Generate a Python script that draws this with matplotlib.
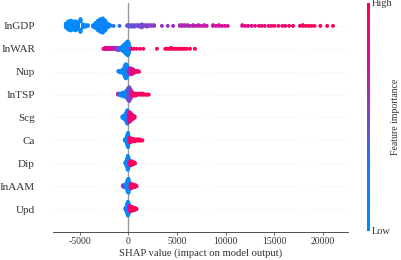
#!/usr/bin/env python3

import numpy as np
import matplotlib
matplotlib.use("Agg")
import matplotlib.pyplot as plt
from matplotlib.colors import LinearSegmentedColormap

### data START ###
# features from top to bottom
features = ["InGDP", "InWAR", "Nup", "InTSP", "Scg", "Ca", "Dip", "InAAM", "Upd"]

# each feature: SHAP positions, number of samples at that position, feature value level (0 low .. 1 high)
InGDP_x = [-6400, -6150, -5900, -5650, -5400, -5150, -4900, -4650, -4400, -4150,
           -3600, -3350, -3100, -2850, -2600, -2350, -2100, -1850, -1500, -900,
           -100, 150, 400, 650, 900, 1150, 1400, 1650, 1900, 2150, 2400, 2650,
           3450, 4050, 4600, 5300, 5550, 5800, 6100, 6350, 6650, 6900, 7200, 7500, 7800, 8050,
           8700, 9000, 9300, 9600, 9900, 10200,
           11700, 12000, 12300, 12650, 13000, 13400, 13700, 14000, 14400, 14700, 15000, 15400,
           15800, 16100, 16500, 16900, 17600, 17900, 18200, 18500, 18800, 19100, 19700, 20400, 21000]
InGDP_n = [6, 12, 14, 12, 13, 10, 8, 5, 3, 2,
           3, 8, 14, 18, 20, 14, 6, 2, 1, 1,
           2, 3, 3, 3, 2, 3, 2, 2, 3, 2, 2, 2,
           1, 1, 1, 2, 2, 2, 2, 1, 2, 1, 2, 1, 2, 1,
           2, 1, 2, 1, 1, 1,
           2, 1, 1, 1, 1, 1, 1, 1, 1, 1, 1, 1,
           1, 1, 1, 1, 1, 2, 1, 1, 1, 1, 1, 1, 1]
InGDP_c = [0.02, 0.02, 0.03, 0.03, 0.04, 0.05, 0.05, 0.06, 0.07, 0.08,
           0.10, 0.10, 0.11, 0.12, 0.12, 0.13, 0.14, 0.15, 0.25, 0.35,
           0.42, 0.44, 0.45, 0.46, 0.47, 0.48, 0.49, 0.50, 0.51, 0.52, 0.53, 0.54,
           0.57, 0.58, 0.60, 0.62, 0.62, 0.63, 0.64, 0.65, 0.66, 0.67, 0.68, 0.69, 0.70, 0.70,
           0.72, 0.73, 0.74, 0.75, 0.76, 0.77,
           0.80, 0.81, 0.82, 0.83, 0.84, 0.85, 0.86, 0.87, 0.88, 0.89, 0.90, 0.90,
           0.91, 0.92, 0.93, 0.93, 0.94, 0.95, 0.96, 0.96, 0.97, 0.98, 0.98, 0.99, 1.0]

InWAR_x = [-2550, -2450, -2350, -2250, -2150, -2050, -1950, -1850, -1750, -1650, -1550, -1450,
           -1350, -1250, -1150, -1050, -950, -850,
           -750, -650, -550, -450, -350, -250, -150, -50, 50, 150,
           340, 580, 860, 1200, 1540, 2940,
           3800, 4000, 4200, 4400, 4600, 4800, 5000, 5200, 5400, 5600, 5800, 6000, 6330, 6840]
InWAR_n = [1, 1, 2, 1, 2, 1, 2, 2, 2, 2, 2, 2, 2, 2, 3, 3, 3, 3,
           2, 4, 6, 8, 10, 12, 14, 16, 12, 4,
           1, 1, 1, 1, 1, 1,
           1, 1, 1, 2, 1, 1, 1, 1, 1, 1, 1, 1, 1, 1]
InWAR_c = [0.85, 0.85, 0.84, 0.83, 0.82, 0.81, 0.80, 0.79, 0.78, 0.76, 0.74, 0.70,
           0.65, 0.60, 0.55, 0.50, 0.45, 0.40,
           0.10, 0.08, 0.06, 0.05, 0.05, 0.04, 0.04, 0.05, 0.08, 0.15,
           0.90, 0.91, 0.92, 0.93, 0.93, 0.94,
           0.95, 0.95, 0.96, 0.96, 0.96, 0.97, 0.97, 0.97, 0.98, 0.98, 0.98, 0.99, 0.99, 1.0]

Nup_x = [-1000, -800, -600, -450, -350, -250, -150, -80, 50, 150, 250, 350, 450, 550, 650, 800, 950, 1100]
Nup_n = [2, 3, 4, 8, 14, 18, 16, 8, 6, 8, 8, 7, 6, 4, 3, 2, 2, 1]
Nup_c = [0.05, 0.05, 0.06, 0.06, 0.05, 0.04, 0.05, 0.10, 0.55, 0.60, 0.65, 0.75, 0.80, 0.85, 0.88, 0.90, 0.92, 0.95]

InTSP_x = [-1050, -900, -750, -600, -450, -300, -200, -100, 0, 100, 200, 300,
           450, 600, 750, 900, 1050, 1200, 1350, 1500, 1650, 1800, 1950, 2100]
InTSP_n = [2, 2, 3, 4, 5, 6, 8, 10, 14, 16, 12, 8, 4, 3, 3, 2, 2, 2, 2, 2, 1, 1, 1, 1]
InTSP_c = [0.85, 0.10, 0.08, 0.06, 0.05, 0.05, 0.06, 0.10, 0.40, 0.45, 0.50, 0.60,
           0.90, 0.92, 0.93, 0.94, 0.95, 0.95, 0.96, 0.96, 0.97, 0.97, 0.98, 0.98]

Scg_x = [-600, -500, -400, -300, -200, -100, -30, 50, 150, 250, 350, 450, 550, 650]
Scg_n = [2, 3, 4, 6, 10, 14, 12, 10, 10, 8, 6, 4, 3, 2]
Scg_c = [0.05, 0.05, 0.05, 0.05, 0.05, 0.06, 0.10, 0.80, 0.85, 0.87, 0.88, 0.90, 0.92, 0.95]

Ca_x = [-350, -250, -150, -80, -20, 40, 150, 250, 350, 450, 550, 650, 750, 850, 950, 1050, 1150, 1250, 1350, 1450]
Ca_n = [2, 4, 8, 14, 18, 10, 6, 5, 4, 4, 3, 3, 2, 2, 2, 2, 2, 1, 1, 1]
Ca_c = [0.05, 0.05, 0.05, 0.05, 0.06, 0.10, 0.90, 0.92, 0.93, 0.94, 0.95, 0.95, 0.96, 0.96, 0.97, 0.97, 0.98, 0.98, 0.99, 1.0]

Dip_x = [-300, -200, -120, -50, 20, 100, 200, 300, 400, 500, 600, 700]
Dip_n = [2, 5, 10, 16, 12, 6, 5, 5, 4, 3, 2, 1]
Dip_c = [0.05, 0.05, 0.05, 0.05, 0.06, 0.30, 0.90, 0.92, 0.94, 0.95, 0.97, 0.98]

InAAM_x = [-550, -450, -350, -250, -150, -60, 20, 100, 250, 350, 450, 550, 650, 750, 850]
InAAM_n = [2, 3, 3, 4, 8, 14, 16, 10, 5, 5, 4, 3, 3, 2, 1]
InAAM_c = [0.55, 0.55, 0.50, 0.08, 0.05, 0.05, 0.05, 0.10, 0.90, 0.92, 0.94, 0.95, 0.96, 0.97, 0.98]

Upd_x = [-300, -200, -150, -100, -30, 40, 150, 250, 350, 450, 550, 650, 750, 850]
Upd_n = [2, 5, 3, 12, 16, 12, 6, 6, 5, 4, 3, 3, 2, 1]
Upd_c = [0.05, 0.05, 0.60, 0.05, 0.05, 0.08, 0.85, 0.90, 0.92, 0.94, 0.95, 0.96, 0.97, 0.98]

x_ticks = [-5000, 0, 5000, 10000, 15000, 20000]
### data END ###

data = {
    "InGDP": (InGDP_x, InGDP_n, InGDP_c),
    "InWAR": (InWAR_x, InWAR_n, InWAR_c),
    "Nup": (Nup_x, Nup_n, Nup_c),
    "InTSP": (InTSP_x, InTSP_n, InTSP_c),
    "Scg": (Scg_x, Scg_n, Scg_c),
    "Ca": (Ca_x, Ca_n, Ca_c),
    "Dip": (Dip_x, Dip_n, Dip_c),
    "InAAM": (InAAM_x, InAAM_n, InAAM_c),
    "Upd": (Upd_x, Upd_n, Upd_c),
}

plt.rcParams["font.family"] = ["Liberation Serif", "DejaVu Serif"]
axis_color = "#333333"

# shap like red/blue colormap
red_blue = LinearSegmentedColormap.from_list("red_blue", [
    (0.0, (0.0, 0.545, 0.984)),
    (0.3, (0.12, 0.47, 0.95)),
    (0.5, (0.49, 0.27, 0.80)),
    (0.75, (0.85, 0.05, 0.62)),
    (1.0, (1.0, 0.0, 0.322)),
])


def swarm_offsets(vals, nbins=100, row_height=0.4):
    # same vertical layout as shap's beeswarm
    vals = np.asarray(vals, dtype=float)
    quant = np.round(nbins * (vals - vals.min()) / (vals.max() - vals.min() + 1e-8))
    inds = np.argsort(quant, kind="stable")
    ys = np.zeros(len(vals))
    layer = 0
    last_bin = -1
    for i in inds:
        if quant[i] != last_bin:
            layer = 0
        ys[i] = np.ceil(layer / 2) * ((layer % 2) * 2 - 1)
        layer += 1
        last_bin = quant[i]
    ys *= 0.9 * (row_height / np.max(ys + 1))
    return ys


fig = plt.figure(figsize=(4.01, 2.6), dpi=100)
ax = fig.add_axes([53 / 401, 28 / 260, 295 / 401, 229 / 260])

n_feat = len(features)
for k, name in enumerate(features):
    pos = n_feat - 1 - k
    xs, ns, cs = data[name]
    shaps = np.repeat(xs, ns)
    levels = np.repeat(cs, ns)
    ys = swarm_offsets(shaps)
    ax.axhline(y=pos, color="#cccccc", lw=0.5, dashes=(1, 5), zorder=-1)
    ax.scatter(shaps, pos + ys, c=levels, cmap=red_blue, vmin=0, vmax=1,
               s=8, linewidth=0, alpha=1, zorder=3)

ax.axvline(x=0, color="#999999", lw=1.0, zorder=-1)

ax.set_xlim(-7720, 22540)
ax.set_ylim(-1, n_feat)
ax.set_yticks(range(n_feat))
ax.set_yticklabels(features[::-1], fontsize=8)
ax.set_xticks(x_ticks)
ax.set_xticklabels([str(t) for t in x_ticks], fontsize=7)
ax.set_xlabel("SHAP value (impact on model output)", fontsize=7.7, color=axis_color, labelpad=1.5)

ax.spines["right"].set_visible(False)
ax.spines["top"].set_visible(False)
ax.spines["left"].set_visible(False)
ax.spines["bottom"].set_color(axis_color)
ax.spines["bottom"].set_linewidth(0.6)
ax.yaxis.set_ticks_position("none")
ax.tick_params(axis="y", length=0, pad=13, labelcolor=axis_color)
ax.tick_params(axis="x", length=2, width=0.5, pad=1.5, color=axis_color, labelcolor=axis_color)

# colorbar
cax = fig.add_axes([367 / 401, 29 / 260, 3 / 401, 228 / 260])
sm = plt.cm.ScalarMappable(cmap=red_blue, norm=plt.Normalize(0, 1))
cb = fig.colorbar(sm, cax=cax, ticks=[0, 1])
cb.set_ticklabels(["Low", "High"])
cb.ax.tick_params(labelsize=7.5, length=0, pad=1.5, labelcolor=axis_color)
cb.outline.set_visible(False)
fig.text(395 / 401, 1 - 117 / 260, "Feature importance", rotation=90, ha="center", va="center",
         fontsize=7, color=axis_color)

plt.savefig("out.png", dpi=100)
